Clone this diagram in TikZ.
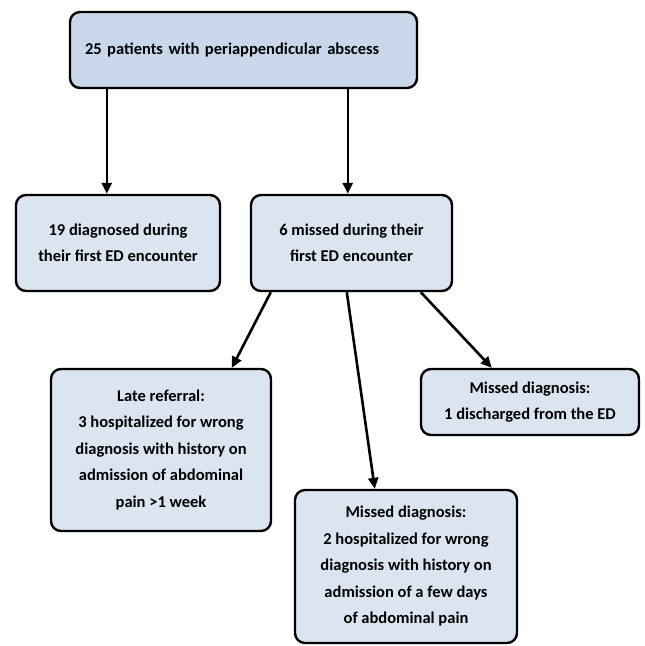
\documentclass[tikz,border=0pt]{standalone}
\usepackage{fontspec}
\setmainfont{Carlito}
\usetikzlibrary{arrows.meta}
\definecolor{topfill}{HTML}{C8D8EA}
\definecolor{boxfill}{HTML}{DBE5F1}
\begin{document}
\begin{tikzpicture}[x=1pt,y=-1pt,
  box/.style={draw=black, line width=2.4pt, rounded corners=10pt, fill=boxfill,
    align=center, font=\fontsize{16.5}{26.5}\selectfont\bfseries, inner sep=0pt},
  conn/.style={line width=2.6pt, -{Triangle[length=11pt,width=10pt]}}]
\useasboundingbox (0,0) rectangle (645,646);
\node[box, fill=topfill, minimum width=347pt, minimum height=76pt, text width=317pt, align=left] (top) at (243.5,50) {25 patients with periappendicular abscess};
\node[box, minimum width=204pt, minimum height=96pt] (d19) at (118,243) {19 diagnosed during\\their first ED encounter};
\node[box, minimum width=201pt, minimum height=96pt] (m6) at (351.5,243) {6 missed during their\\first ED encounter};
\node[box, minimum width=220pt, minimum height=162pt] (late) at (161,450) {Late referral:\\3 hospitalized for wrong\\diagnosis with history on\\admission of abdominal\\pain >1 week};
\node[box, minimum width=218pt, minimum height=66pt] (miss1) at (530,402) {Missed diagnosis:\\1 discharged from the ED};
\node[box, minimum width=222pt, minimum height=153pt] (miss2) at (406,566.5) {Missed diagnosis:\\2 hospitalized for wrong\\diagnosis with history on\\admission of a few days\\of abdominal pain};
\draw[conn] ([xshift=38pt]top.south west) -- ([xshift=92pt]d19.north west);
\draw[conn] ([xshift=279pt]top.south west) -- ([xshift=98pt]m6.north west);
\draw[conn] ([xshift=21pt]m6.south west) -- ([xshift=182pt]late.north west);
\draw[conn] ([xshift=97pt]m6.south west) -- ([xshift=81pt]miss2.north west);
\draw[conn] ([xshift=171pt]m6.south west) -- ([xshift=72pt]miss1.north west);
\end{tikzpicture}
\end{document}
